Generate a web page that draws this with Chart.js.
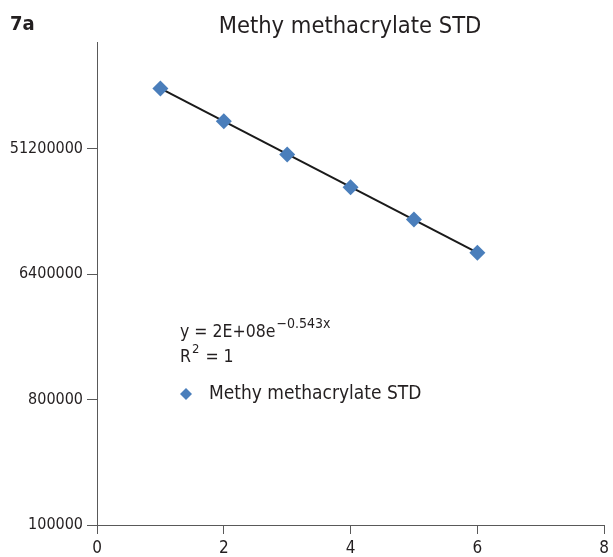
<!DOCTYPE html>
<html>
<head>
<meta charset="utf-8">
<script src="https://cdn.jsdelivr.net/npm/chart.js@4.4.1/dist/chart.umd.min.js"></script>
<style>
html,body{margin:0;padding:0;background:#fff;}
#wrap{width:613px;height:557px;position:relative;}
</style>
</head>
<body>
<div id="wrap"><canvas id="c" width="613" height="557"></canvas></div>
<script>
const panelLabel = "7a";
const chartTitle = "Methy methacrylate STD";
const seriesName = "Methy methacrylate STD";
const xValues = [1, 2, 3, 4, 5, 6];
const yValues = [139000000, 80700000, 46400000, 27000000, 15800000, 9130000];
const trendX = [1, 6];
const trendY = [139000000, 9130000];
const yTickValues = [100000, 800000, 6400000, 51200000];
const xTickStep = 2;
const equationMain = "y = 2E+08e";
const equationExp = "\u22120.543x";
const r2Text = "= 1";

const FONT = '"DejaVu Sans Condensed", "Liberation Sans Narrow", sans-serif';
const AXIS = '#595959';
const BLUE = '#4a7ebb';

const overlay = {
  id: 'overlay',
  afterDraw(chart) {
    const ctx = chart.ctx;
    ctx.save();
    ctx.fillStyle = '#231f20';
    ctx.textBaseline = 'alphabetic';
    ctx.textAlign = 'left';
    ctx.font = 'bold 20px ' + FONT;
    ctx.fillText(panelLabel, 10, 30);
    ctx.textAlign = 'center';
    ctx.font = '23.5px ' + FONT;
    ctx.fillText(chartTitle, 350, 33);
    // equation
    ctx.textAlign = 'left';
    ctx.font = '17.5px ' + FONT;
    ctx.fillText(equationMain, 180, 337);
    let w = ctx.measureText(equationMain).width;
    ctx.font = '14px ' + FONT;
    ctx.fillText(equationExp, 180 + w + 1, 328);
    ctx.font = '17.5px ' + FONT;
    ctx.fillText('R', 180, 362);
    let rw = ctx.measureText('R').width;
    ctx.font = '13px ' + FONT;
    ctx.fillText('2', 180 + rw + 1, 353);
    let tw = ctx.measureText('2').width;
    ctx.font = '17.5px ' + FONT;
    ctx.fillText(' ' + r2Text, 180 + rw + tw + 2, 362);
    // legend
    ctx.fillStyle = BLUE;
    ctx.beginPath();
    const lx = 186, ly = 394, r = 6;
    ctx.moveTo(lx, ly - r); ctx.lineTo(lx + r, ly); ctx.lineTo(lx, ly + r); ctx.lineTo(lx - r, ly); ctx.closePath();
    ctx.fill();
    ctx.fillStyle = '#231f20';
    ctx.font = '19px ' + FONT;
    ctx.textBaseline = 'middle';
    ctx.fillText(seriesName, 209, 394);
    ctx.restore();
  }
};

new Chart(document.getElementById('c'), {
  type: 'scatter',
  data: {
    datasets: [
      {
        label: seriesName,
        data: xValues.map((x, i) => ({x: x, y: yValues[i]})),
        pointStyle: 'rectRot',
        pointRadius: 8,
        pointHoverRadius: 8,
        backgroundColor: BLUE,
        borderColor: BLUE,
        borderWidth: 0,
        order: 1
      },
      {
        label: 'trend',
        type: 'line',
        data: trendX.map((x, i) => ({x: x, y: trendY[i]})),
        borderColor: '#1a1a1a',
        borderWidth: 2,
        pointRadius: 0,
        fill: false,
        order: 2
      }
    ]
  },
  options: {
    responsive: false,
    animation: false,
    devicePixelRatio: 1,
    layout: {padding: {top: 42, right: 7, left: 0, bottom: 0}},
    plugins: {legend: {display: false}, title: {display: false}, tooltip: {enabled: false}},
    scales: {
      x: {
        type: 'linear', min: 0, max: 8,
        afterFit: (axis) => { axis.height = 32; },
        ticks: {stepSize: xTickStep, color: '#231f20', font: {family: FONT, size: 17}, padding: 4, maxRotation: 0},
        grid: {display: true, drawOnChartArea: false, drawTicks: true, tickLength: 9, color: AXIS},
        border: {color: AXIS, width: 1}
      },
      y: {
        type: 'logarithmic', min: 100000, max: 300000000,
        afterBuildTicks: (axis) => { axis.ticks = yTickValues.map(v => ({value: v})); },
        afterFit: (axis) => { axis.width = 97; },
        ticks: {color: '#231f20', font: {family: FONT, size: 16}, padding: 4, callback: (v) => String(v)},
        grid: {display: true, drawOnChartArea: false, drawTicks: true, tickLength: 10, color: AXIS},
        border: {color: AXIS, width: 1}
      }
    }
  },
  plugins: [overlay]
});
</script>
</body>
</html>
